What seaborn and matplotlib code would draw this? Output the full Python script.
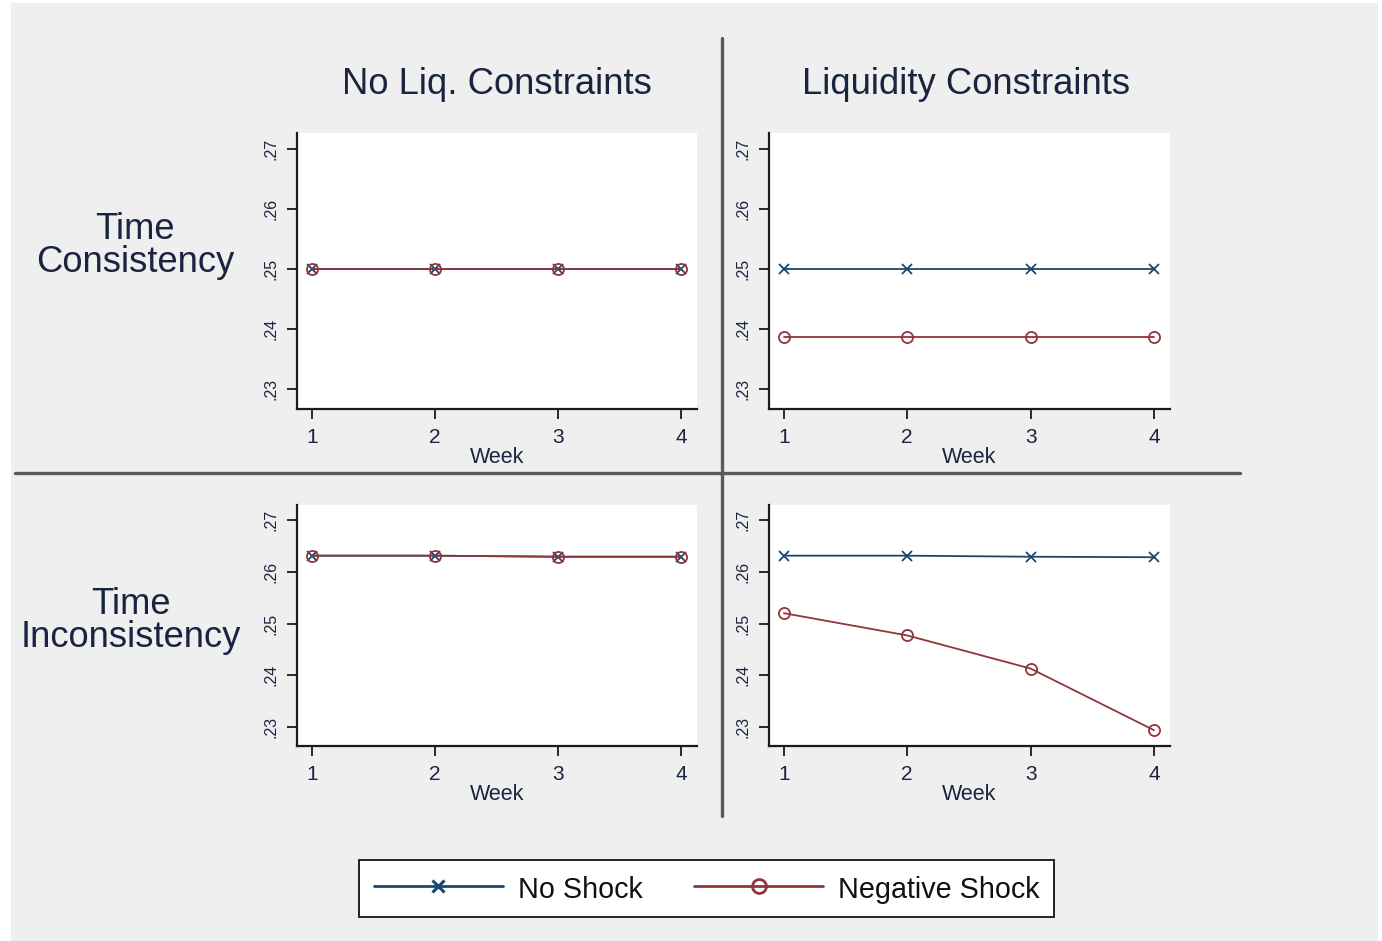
import matplotlib
matplotlib.use("Agg")
import matplotlib.pyplot as plt
from matplotlib.patches import Rectangle
from matplotlib.lines import Line2D
import seaborn as sns
import pandas as pd

# ---- data -------------------------------------------------------------
weeks = [1, 2, 3, 4]
series_names = ["No Shock", "Negative Shock"]
col_titles = ["No Liq. Constraints", "Liquidity Constraints"]
row_titles = ["Time\nConsistency", "Time\nInconsistency"]

tc_noliq_noshock = [0.2500, 0.2500, 0.2500, 0.2500]
tc_noliq_negative = [0.2500, 0.2500, 0.2500, 0.2500]
tc_liq_noshock = [0.2500, 0.2500, 0.2500, 0.2500]
tc_liq_negative = [0.2386, 0.2386, 0.2386, 0.2386]
ti_noliq_noshock = [0.2631, 0.2631, 0.2629, 0.2629]
ti_noliq_negative = [0.2631, 0.2631, 0.2629, 0.2629]
ti_liq_noshock = [0.2631, 0.2631, 0.2629, 0.2628]
ti_liq_negative = [0.2520, 0.2477, 0.2413, 0.2294]

y_ticks = [0.23, 0.24, 0.25, 0.26, 0.27]
y_tick_labels = [".23", ".24", ".25", ".26", ".27"]

panels = [
    [(tc_noliq_noshock, tc_noliq_negative), (tc_liq_noshock, tc_liq_negative)],
    [(ti_noliq_noshock, ti_noliq_negative), (ti_liq_noshock, ti_liq_negative)],
]

# ---- style -------------------------------------------------------------
sns.set_theme(style="white")
plt.rcParams["font.family"] = ["Liberation Sans", "DejaVu Sans"]
TEXT = "#1a2440"
BG = "#efefef"
palette = {"No Shock": "#1a476f", "Negative Shock": "#90353b"}

W, H = 1382, 941
fig = plt.figure(figsize=(W / 100, H / 100), dpi=100)
fig.patch.set_facecolor("white")
fig.patches.append(Rectangle((11 / W, 0), (1378 - 11) / W, 1 - 3 / H,
                             transform=fig.transFigure, facecolor=BG,
                             edgecolor="none", zorder=-10))


def fx(px):
    return px / W


def fy(px):
    return 1 - px / H


# panel boxes in pixel coordinates: (left, top, right, bottom)
boxes = [
    [(297, 133, 697, 409), (769, 133, 1170, 409)],
    [(297, 505, 697, 746), (769, 505, 1170, 746)],
]
ylims = [(0.22667, 0.27267), (0.22634, 0.27289)]

for r in range(2):
    for c in range(2):
        l, t, rr, b = boxes[r][c]
        ax = fig.add_axes([fx(l), fy(b), (rr - l) / W, (b - t) / H])
        ax.set_facecolor("white")
        no_shock, negative = panels[r][c]
        df = pd.DataFrame({
            "Week": weeks * 2,
            "value": list(no_shock) + list(negative),
            "Shock": [series_names[0]] * 4 + [series_names[1]] * 4,
        })
        for name in series_names:
            sub = df[df["Shock"] == name]
            sns.lineplot(data=sub, x="Week", y="value", ax=ax,
                         color=palette[name], linewidth=1.3,
                         marker="x" if name == "No Shock" else "o",
                         markersize=7.5 if name == "No Shock" else 8,
                         markerfacecolor="none",
                         markeredgecolor=palette[name],
                         markeredgewidth=1.3, label=name, legend=False)
        ax.set_xlim(0.88, 4.13)
        ax.set_ylim(*ylims[r])
        ax.set_xticks(weeks)
        ax.set_xticklabels([str(w) for w in weeks], fontsize=15, color=TEXT)
        ax.set_yticks(y_ticks)
        ax.set_yticklabels(y_tick_labels, fontsize=11.5, color=TEXT,
                           rotation=90, va="center")
        ax.set_xlabel("Week", fontsize=15.5, color=TEXT, labelpad=0)
        ax.set_ylabel("")
        for side in ["top", "right"]:
            ax.spines[side].set_visible(False)
        for side in ["left", "bottom"]:
            ax.spines[side].set_color("#1a1a1a")
            ax.spines[side].set_linewidth(1.6)
        ax.tick_params(axis="both", direction="out", length=7, width=1.3,
                       color="#1a1a1a", left=True, bottom=True)
        ax.tick_params(axis="x", pad=7)
        ax.tick_params(axis="y", pad=6)

legend_handles = [
    Line2D([], [], color=palette["No Shock"], linewidth=2,
           marker="x", markersize=9, markeredgewidth=2.2),
    Line2D([], [], color=palette["Negative Shock"], linewidth=2,
           marker="o", markersize=10, markerfacecolor="none",
           markeredgewidth=2),
]

# column and row headers
for c, title in enumerate(col_titles):
    xc = [497, 966][c]
    fig.text(fx(xc), fy(84), title, fontsize=26.2, color=TEXT,
             ha="center", va="center")
for r, title in enumerate(row_titles):
    xc, yc = [(135, 246), (131, 621)][r]
    fig.text(fx(xc), fy(yc), title, fontsize=26.2, color=TEXT,
             ha="center", va="center", linespacing=0.92, multialignment="center")

# separating lines between the panel grid
fig.add_artist(Line2D([fx(722), fx(722)], [fy(38), fy(816)],
                      transform=fig.transFigure, color="#5a5a5a", linewidth=2.4))
fig.add_artist(Line2D([fx(15), fx(1240)], [fy(473), fy(473)],
                      transform=fig.transFigure, color="#5a5a5a", linewidth=2.4))

leg = fig.legend(legend_handles, series_names, loc="center",
                 bbox_to_anchor=(fx(706.5), fy(888.5)), ncol=2,
                 fontsize=20.7, frameon=True, fancybox=False, framealpha=1,
                 handlelength=4.5, handletextpad=0.5, columnspacing=1.8,
                 borderpad=0.5, labelcolor="#111111")
leg.get_frame().set_edgecolor("#222222")
leg.get_frame().set_linewidth(1.4)
leg.get_frame().set_facecolor("white")
for txt in leg.get_texts():
    txt.set_y(-2)

fig.savefig("out.png", dpi=100, facecolor=fig.get_facecolor())
